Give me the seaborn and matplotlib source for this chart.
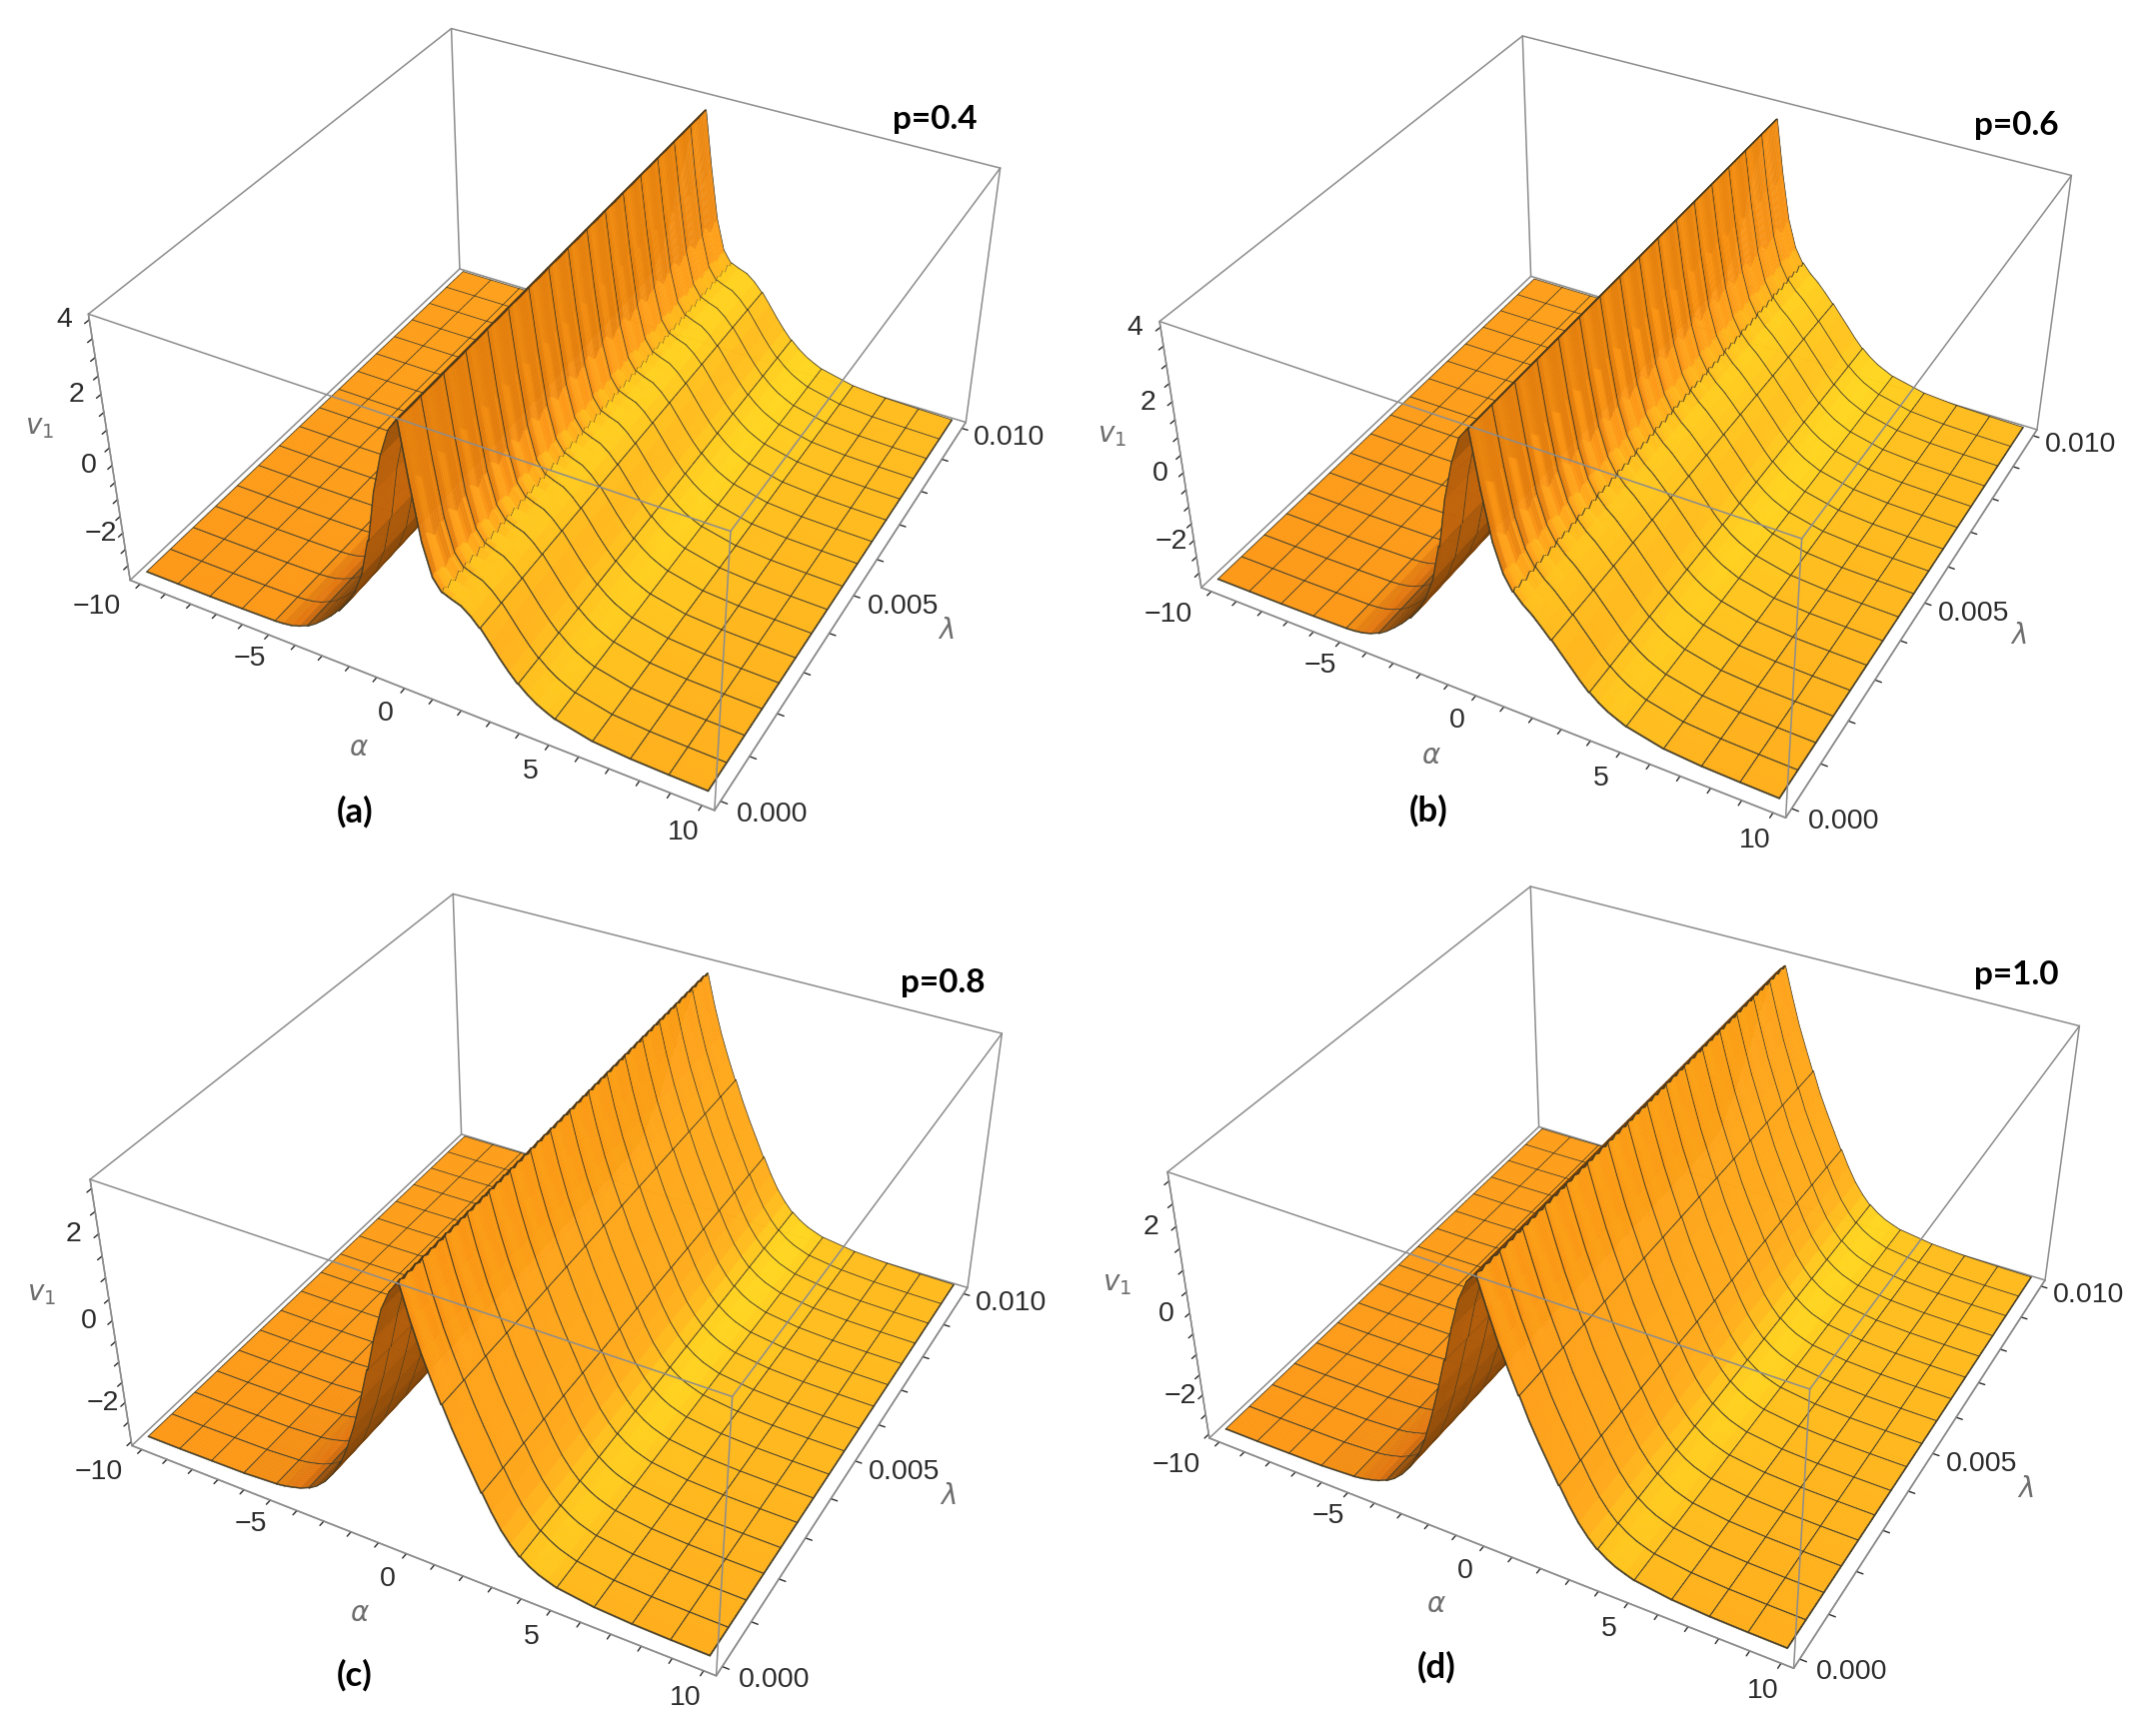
import numpy as np
import seaborn as sns
import matplotlib
matplotlib.use('Agg')
import matplotlib.pyplot as plt
from matplotlib.transforms import ScaledTranslation

sns.set_theme(style='white')
plt.rcParams['font.family'] = ['Liberation Sans', 'DejaVu Sans']

# values
alpha = [-10, -8.75, -7.5, -6.25, -5, -4.6875, -4.375, -4.0625, -3.75, -3.4375, -3.125, -2.8125, -2.5, -2.1875,
         -1.875, -1.5625, -1.25, -0.9375, -0.625, -0.3125, 0, 0.3125, 0.625, 0.9375, 1.25, 1.5625, 1.875, 2.1875,
         2.5, 2.8125, 3.125, 3.4375, 3.75, 4.0625, 4.375, 4.6875, 5, 6.25, 7.5, 8.75, 10]
v1_a = [-3.29, -3.29, -3.29, -3.28, -3.26, -3.24, -3.2, -3.12, -3.01, -2.85, -2.64, -2.41, -2.15, -1.84,
        -1.42, -0.79, 0.25, 1.7, 2.75, 3.5, 3.85, 2.25, 0.77, -0.12, -0.45, -0.55, -0.64, -0.83,
        -1.08, -1.39, -1.73, -2.04, -2.3, -2.51, -2.69, -2.82, -2.93, -3.16, -3.24, -3.27, -3.29]
v1_b = [-3.29, -3.29, -3.29, -3.28, -3.26, -3.24, -3.2, -3.12, -3.01, -2.85, -2.64, -2.41, -2.15, -1.84,
        -1.37, -0.74, 0.3, 1.7, 2.75, 3.5, 3.8, 2.3, 0.98, 0.19, -0.22, -0.48, -0.69, -0.95,
        -1.21, -1.49, -1.78, -2.08, -2.33, -2.53, -2.7, -2.82, -2.93, -3.16, -3.24, -3.27, -3.29]
v1_c = [-2.95, -2.95, -2.94, -2.93, -2.88, -2.85, -2.8, -2.74, -2.65, -2.52, -2.33, -2.07, -1.72, -1.25,
        -0.65, 0.05, 0.8, 1.6, 2.3, 2.75, 3.0, 2.3, 1.65, 1.1, 0.62, 0.15, -0.3, -0.72,
        -1.12, -1.5, -1.85, -2.12, -2.33, -2.48, -2.6, -2.68, -2.75, -2.87, -2.92, -2.94, -2.95]
v1_d = [-2.95, -2.95, -2.94, -2.93, -2.88, -2.85, -2.8, -2.74, -2.65, -2.52, -2.33, -2.07, -1.72, -1.25,
        -0.62, 0.1, 0.85, 1.65, 2.35, 2.8, 3.0, 2.35, 1.7, 1.15, 0.65, 0.15, -0.3, -0.72,
        -1.12, -1.5, -1.85, -2.12, -2.33, -2.48, -2.6, -2.68, -2.75, -2.87, -2.92, -2.94, -2.95]

# wiggle of the ridge along lambda, one mesh cell of lambda holds 12 samples
wave_slow = [0.0, 0.6, 1.0, 0.7, 0.2, -0.3, -0.8, -1.0, -0.7, -0.3, 0.1, -0.2]
wave_fast = [0, 1, 0, -1, 0, 1, 0, -1, 0, 1, 0, -1]
ripple_alpha = [-0.3125, 0, 0.3125, 0.625, 0.9375, 1.25, 1.5625]
slow_a = [0, 0, 0.14, 0.16, 0.07, 0.02, 0]
fast_a = [0, 0, 0, 0.015, 0.05, 0.07, 0.03]
slow_b = [0, 0, 0.14, 0.16, 0.07, 0.02, 0]
fast_b = [0, 0, 0, 0.015, 0.05, 0.06, 0.03]
slow_c = [0, 0, 0.05, 0.04, 0, 0, 0]
fast_c = [0, 0.03, 0.01, 0, 0, 0, 0]
slow_d = [0, 0, 0.05, 0.04, 0, 0, 0]
fast_d = [0, 0.03, 0.01, 0, 0, 0, 0]

panel_values = [v1_a, v1_b, v1_c, v1_d]
panel_slow = [slow_a, slow_b, slow_c, slow_d]
panel_fast = [fast_a, fast_b, fast_c, fast_d]
panel_names = ['p=0.4', 'p=0.6', 'p=0.8', 'p=1.0']
panel_tags = ['(a)', '(b)', '(c)', '(d)']
z_limits = [(-3.45, 4.15), (-3.45, 4.15), (-3.1, 3.2), (-3.1, 3.2)]
z_major = [[-2, 0, 2, 4], [-2, 0, 2, 4], [-2, 0, 2], [-2, 0, 2]]

alpha_major = [-10, -5, 0, 5, 10]
alpha_ticks = list(range(-10, 11))
lam_major = [0.0, 0.005, 0.01]
lam_ticks = [i / 1000 for i in range(11)]

# layout in pixels of the full picture
W, H = 2140, 1737
box_size = 935.3
box_left = [87.3, 1159, 89, 1167]
box_bottom = [883.4, 876, 17.5, 25]
name_xy = [(935, 119), (2017, 126), (943, 984), (2017, 976)]
tag_xy = [(355, 812), (1429, 811), (355, 1676), (1437, 1668)]
alpha_label_xy = [(359, 749), (1432, 757), (360, 1615), (1437, 1606)]
lam_label_xy = [(946, 632), (2019, 637), (948, 1498), (2026, 1491)]
v1_label_xy = [(40, 428), (1113, 436), (42, 1295), (1118, 1285)]

shade_levels = [-0.2, 0.1, 0.33, 0.5, 0.62, 0.7, 0.74, 0.85, 0.93, 1.0]
shade_colors = ['#5a3208', '#78410a', '#9a520b', '#e5750e', '#e27c10', '#e8840f', '#fd9716', '#ffab1a',
                '#ffc01c', '#ffd71e']
shade_cmap = sns.blend_palette(shade_colors, n_colors=256, as_cmap=True)
mesh_color = '#433a22'
box_color = '#8c8c8c'
text_color = '#2b2b2b'
label_color = '#6e6e6e'

ELEV, AZIM = 35.975, -61.606


def surface_colors(a, lam, z, zlim):
    # one colour per cell, lamp at the upper right of the viewer, back faces get the dark end
    xs = (a - a[0]) / 20.8
    ys = (lam - lam[0]) / 0.0104
    zs = (z - zlim[0]) / (zlim[1] - zlim[0]) * 0.5
    dzdx = np.diff(zs, axis=1) / np.diff(xs)
    dzdx = (dzdx[1:] + dzdx[:-1]) / 2
    dzdy = np.diff(zs, axis=0) / np.diff(ys)[:, None]
    dzdy = (dzdy[:, 1:] + dzdy[:, :-1]) / 2
    n = np.dstack([-dzdx, -dzdy, np.ones_like(dzdx)])
    n = n / np.linalg.norm(n, axis=2, keepdims=True)
    el, az = np.radians(ELEV), np.radians(AZIM)
    eye = np.array([np.cos(el) * np.cos(az), np.cos(el) * np.sin(az), np.sin(el)])
    right = np.array([-np.sin(az), np.cos(az), 0])
    up = np.cross(eye, right)
    lamp = 3 * (eye + right + up) / np.sqrt(3)
    gx, gy = np.meshgrid((xs[1:] + xs[:-1]) / 2 - 0.5, (ys[1:] + ys[:-1]) / 2 - 0.5)
    gz = (zs[1:, 1:] + zs[:-1, :-1]) / 2 - 0.25
    to_lamp = np.dstack([lamp[0] - gx, lamp[1] - gy, lamp[2] - gz])
    to_lamp = to_lamp / np.linalg.norm(to_lamp, axis=2, keepdims=True)
    flip = np.where(n @ eye < 0, -1.0, 1.0)
    level = np.sum(n * to_lamp, axis=2) * flip
    # soften the steps between neighbouring cells, not across the fold of the ridge
    soft = level.copy()
    soft[:, 1:-1] = (level[:, :-2] + 2 * level[:, 1:-1] + level[:, 2:]) / 4
    close = np.ones_like(level, dtype=bool)
    close[:, 1:-1] = (abs(level[:, :-2] - level[:, 1:-1]) < 0.2) & (abs(level[:, 2:] - level[:, 1:-1]) < 0.2)
    level = np.where(close, soft, level)
    pos = np.interp(level, shade_levels, np.linspace(0, 1, len(shade_levels)))
    return np.pad(shade_cmap(pos), ((0, 1), (0, 1), (0, 0)), mode='edge')


def draw_box(ax, xl, yl, zl):
    back = [((0, 1, 0), (1, 1, 0)), ((0, 0, 0), (0, 1, 0)), ((0, 1, 0), (0, 1, 1)), ((1, 1, 0), (1, 1, 1)),
            ((0, 1, 1), (1, 1, 1)), ((0, 0, 1), (0, 1, 1))]
    front = [((0, 0, 0), (1, 0, 0)), ((1, 0, 0), (1, 1, 0)), ((0, 0, 0), (0, 0, 1)), ((1, 0, 0), (1, 0, 1)),
             ((0, 0, 1), (1, 0, 1)), ((1, 0, 1), (1, 1, 1))]
    for edges, order in [(back, 1), (front, 3)]:
        for p, q in edges:
            ax.plot([xl[p[0]], xl[q[0]]], [yl[p[1]], yl[q[1]]], [zl[p[2]], zl[q[2]]],
                    color=box_color, lw=1.1, zorder=order)


def shift_labels(ax, axis, dx, dy):
    # Axis3D puts transData back on its ticks each time it asks for them
    get_ticks = axis.get_major_ticks
    offset = ScaledTranslation(dx / 100, dy / 100, fig.dpi_scale_trans)

    def shifted_ticks(numticks=None):
        ticks = get_ticks(numticks)
        for t in ticks:
            t.label1.set_transform(ax.transData + offset)
        return ticks
    axis.get_major_ticks = shifted_ticks


def draw_panel(k):
    zlim = z_limits[k]
    rect = [box_left[k] / W, box_bottom[k] / H, box_size / W, box_size / H]
    ax = fig.add_axes(rect, projection='3d', computed_zorder=False)
    ax.patch.set_alpha(0)
    ax.view_init(ELEV, AZIM)
    ax.set_proj_type('persp', focal_length=0.43)
    ax.set_box_aspect((1, 1, 0.5))
    xl, yl = (-10.4, 10.4), (-0.0002, 0.0102)
    ax.set_xlim(*xl, view_margin=0)
    ax.set_ylim(*yl, view_margin=0)
    ax.set_zlim(*zlim, view_margin=0)

    a = np.array(alpha, float)
    lam = np.arange(16 * 12 + 1) * (0.01 / (16 * 12))
    slow = np.array(wave_slow * 16 + [wave_slow[0]])
    fast = np.array(wave_fast * 16 + [wave_fast[0]])
    z = np.tile(np.array(panel_values[k], float), (len(lam), 1))
    for da, s in zip(ripple_alpha, panel_slow[k]):
        z[:, alpha.index(da)] += s * slow
    # the fine teeth bend the mesh line but do not show in the shading
    colors = surface_colors(a, lam, z, zlim)
    for da, f in zip(ripple_alpha, panel_fast[k]):
        z[:, alpha.index(da)] += f * fast

    # mesh lines are thin cells of the surface, so the ridge can hide them
    eps_a, eps_l = 0.018, 1.2e-5
    ia, xa = [], []
    for i, v in enumerate(alpha):
        if v % 1.25 == 0:
            ia += [i, i]
            xa += [v - eps_a, v + eps_a]
        else:
            ia.append(i)
            xa.append(v)
    il, yl2 = [], []
    for j, v in enumerate(lam):
        if j % 12 == 0:
            il += [j, j]
            yl2 += [v - eps_l, v + eps_l]
        else:
            il.append(j)
            yl2.append(v)
    ia, il = np.array(ia), np.array(il)
    X, Y = np.meshgrid(xa, yl2)
    Z = z[np.ix_(il, ia)]
    fc = colors[np.ix_(il, ia)].copy()
    line_rgba = matplotlib.colors.to_rgba(mesh_color)
    strip_a = np.r_[ia[1:] == ia[:-1], False]
    strip_l = np.r_[il[1:] == il[:-1], False]
    fc[:, strip_a] = line_rgba
    fc[strip_l, :] = line_rgba

    draw_box(ax, xl, yl, zlim)
    ax.plot_surface(X, Y, Z, facecolors=fc, rstride=1, cstride=1, shade=False, linewidth=0.35,
                    antialiased=True, zorder=2)

    ax.grid(False)
    for axis in [ax.xaxis, ax.yaxis, ax.zaxis]:
        axis.set_pane_color((1, 1, 1, 0))
        axis.line.set_color(box_color)
        axis.line.set_linewidth(1.1)
        axis._axinfo['tick']['inward_factor'] = 0.13
        axis._axinfo['tick']['outward_factor'] = 0.0
        axis._axinfo['tick']['color'] = box_color
        axis._axinfo['tick']['linewidth'] = {True: 1.0, False: 1.0}
    z_ticks = [v / 2 for v in range(int(np.ceil(zlim[0] * 2)), int(np.floor(zlim[1] * 2)) + 1)]
    ax.set_xticks(alpha_ticks)
    ax.set_xticklabels([str(v).replace('-', '\u2212') if v in alpha_major else '' for v in alpha_ticks])
    ax.set_yticks(lam_ticks)
    ax.set_yticklabels(['%.3f' % v if v in lam_major else '' for v in lam_ticks])
    ax.set_zticks(z_ticks)
    ax.set_zticklabels([str(int(v)).replace('-', '\u2212') if v in z_major[k] else '' for v in z_ticks])
    ax.zaxis.set_ticks_position('lower')
    for name in 'xyz':
        ax.tick_params(axis=name, labelsize=20.5, colors=text_color, pad=6)
    for t in ax.get_xticklabels():
        if t.get_text() == '\u221210':
            t.set_ha('right')
    shift_labels(ax, ax.xaxis, -5, 15)
    shift_labels(ax, ax.yaxis, 26, 20)
    shift_labels(ax, ax.zaxis, 15, 19)

    fig.text(name_xy[k][0] / W, 1 - name_xy[k][1] / H, panel_names[k], family='Lato', weight='bold',
             fontsize=24, color='black', ha='center', va='center')
    fig.text(tag_xy[k][0] / W, 1 - tag_xy[k][1] / H, panel_tags[k], family='Lato', weight='bold',
             fontsize=25, color='black', ha='center', va='center')
    fig.text(alpha_label_xy[k][0] / W, 1 - alpha_label_xy[k][1] / H, r'$\alpha$', fontsize=20,
             color=label_color, ha='center', va='center')
    fig.text(lam_label_xy[k][0] / W, 1 - lam_label_xy[k][1] / H, r'$\lambda$', fontsize=20,
             color=label_color, ha='center', va='center')
    fig.text(v1_label_xy[k][0] / W, 1 - v1_label_xy[k][1] / H, r'$v_1$', fontsize=20,
             color=label_color, ha='center', va='center')


fig = plt.figure(figsize=(W / 100, H / 100), dpi=100, facecolor='white')
for k in range(4):
    draw_panel(k)
fig.savefig('out.png', dpi=100)
